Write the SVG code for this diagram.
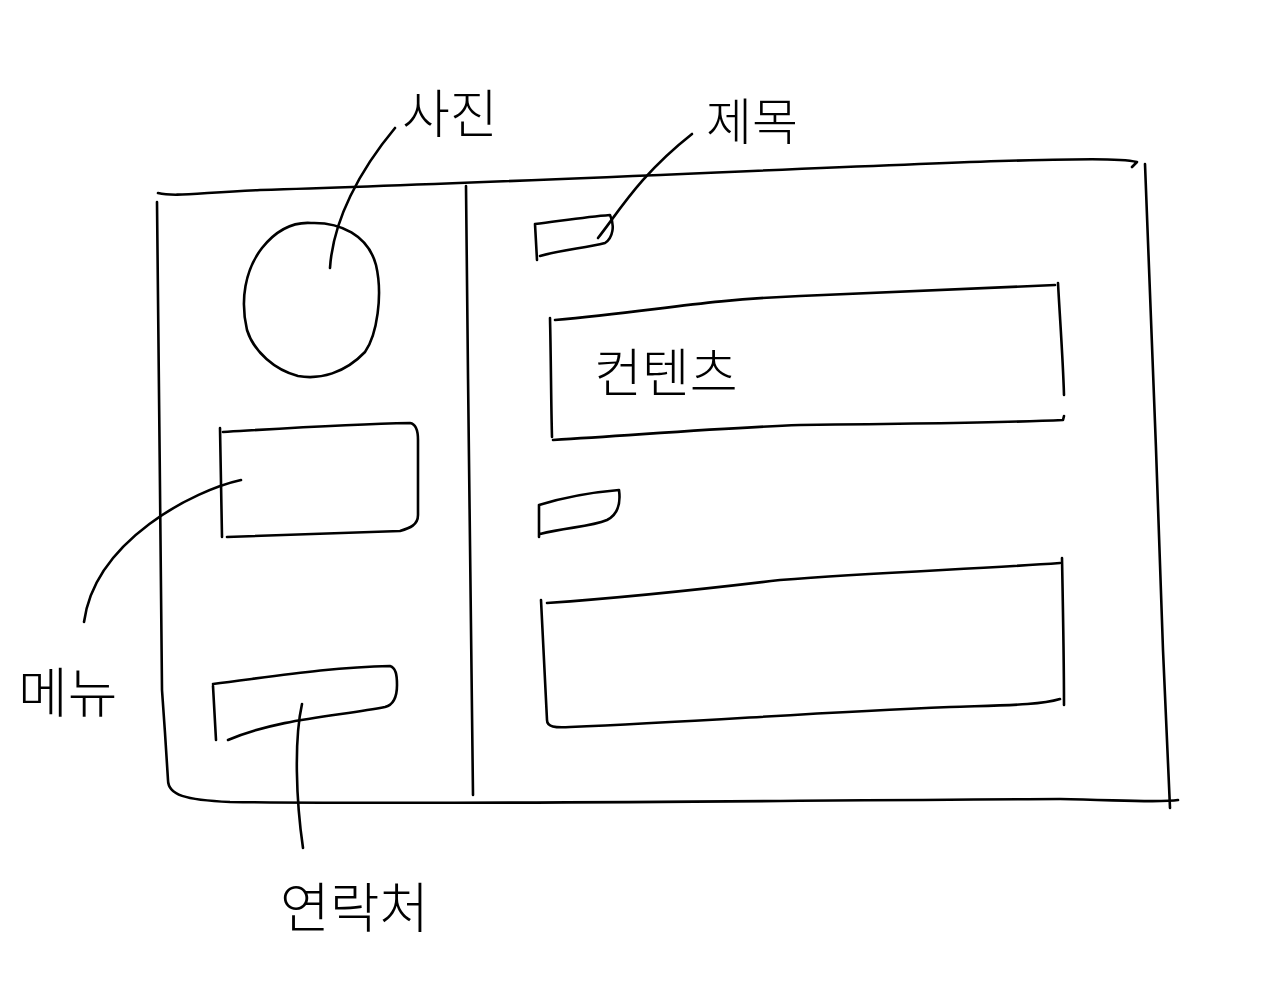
<svg xmlns="http://www.w3.org/2000/svg" width="1280" height="987" viewBox="0 0 1280 987">
<style>
.s{fill:none;stroke:#000;stroke-width:2.6;stroke-linecap:round;stroke-linejoin:round}
.t{font-family:"Noto Sans CJK KR","Noto Sans",sans-serif;font-weight:300;fill:#000}
</style>
<rect width="1280" height="987" fill="#fff"/>
<g id="frame">
<path class="s" d="M158,193 C175,197 195,193 260,190 C500,183 800,168 1000,161 C1080,159 1120,158 1137,162 L1132,167"/>
<path class="s" d="M1145,164 C1150,280 1158,500 1163,650 C1166,720 1168,770 1170,808"/>
<path class="s" d="M157,202 C158,330 161,550 162,690 L165,733 L168,780 C168,795 185,800 230,802 C500,805 800,800 1060,799 C1120,800 1160,803 1178,800"/>
<path class="s" d="M466,186 C468,360 470,600 472,712 L473,795"/>
</g>
<g id="photo">
<path class="s" d="M311,223 C340,222 368,235 376,265 C383,295 377,335 365,352 C345,373 320,380 298,376 C275,370 254,352 247,330 C240,300 245,270 262,248 C278,228 295,222 311,223 Z"/>
</g>
<g id="title-box">
<path class="s" d="M535,224 C560,221 585,217 610,215 C615,225 613,238 605,243 C585,248 560,250 540,256 M535,224 L537,260"/>
</g>
<g id="content1">
<path class="s" d="M555,320 C650,312 700,300 800,296 C900,292 1000,288 1055,285 M1058,283 C1060,320 1063,360 1064,395 M550,318 C551,360 551,400 552,437 M553,440 C650,434 720,428 800,425 C900,424 1000,423 1063,420 L1064,416"/>
<text class="t" x="594" y="392" font-size="52">컨텐츠</text>
</g>
<g id="title-box2">
<path class="s" d="M539,505 C565,497 595,492 619,490 C621,505 617,515 607,520 C590,527 568,527 540,534 M539,505 L539,537"/>
</g>
<g id="content2">
<path class="s" d="M547,603 C620,598 680,592 780,580 C880,572 980,569 1060,563 M1062,558 C1063,610 1064,660 1064,705 M541,600 C543,640 545,680 547,720 C547,727 555,728 570,727 C700,722 800,713 950,707 C1010,705 1040,705 1060,699"/>
</g>
<g id="menu">
<path class="s" d="M223,432 C290,428 350,424 410,423 C416,424 418,430 418,440 L418,515 C418,525 410,528 400,531 C340,533 280,535 227,537 M220,428 L222,537"/>
</g>
<g id="contact">
<path class="s" d="M213,684 C270,677 330,667 390,666 C396,668 397,675 397,685 C397,698 393,705 385,707 C340,716 280,718 228,740 M213,686 L216,740"/>
</g>
<g id="connectors">
<path class="s" d="M330,268 C333,220 360,170 395,128"/>
<path class="s" d="M598,238 C620,210 640,175 692,134"/>
<path class="s" d="M241,480 C195,490 95,540 84,622"/>
<path class="s" d="M302,704 C294,740 296,800 303,848"/>
</g>
<g id="labels">
<text class="t" x="402" y="133" font-size="52">사진</text>
<text class="t" x="706" y="140" font-size="50">제목</text>
<text class="t" x="18" y="713" font-size="54">메뉴</text>
<text class="t" x="280" y="928" font-size="54">연락처</text>
</g>
</svg>
